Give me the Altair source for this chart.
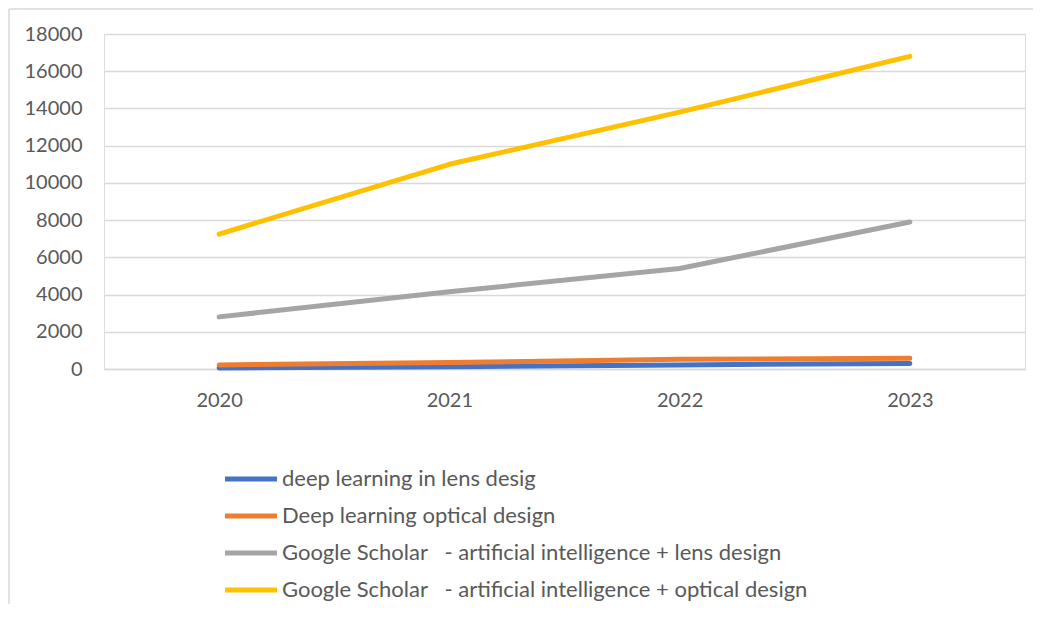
import altair as alt
import pandas as pd

years = ["2020", "2021", "2022", "2023"]
series_names = [
    "deep learning in lens desig",
    "Deep learning optical design",
    "Google Scholar\u00a0\u00a0\u00a0- artificial intelligence + lens design",
    "Google Scholar\u00a0\u00a0\u00a0- artificial intelligence + optical design",
]
blue_vals = [60, 120, 220, 300]
orange_vals = [220, 350, 520, 580]
gray_vals = [2800, 4150, 5400, 7900]
yellow_vals = [7250, 11000, 13800, 16800]
colors = ["#4472C4", "#ED7D31", "#A5A5A5", "#FFC000"]

rows = []
for name, vals in zip(series_names, [blue_vals, orange_vals, gray_vals, yellow_vals]):
    for y, v in zip(years, vals):
        rows.append({"year": y, "value": v, "series": name})
df = pd.DataFrame(rows)

lines = alt.Chart(df).mark_line(strokeWidth=5, strokeCap="round", strokeJoin="round").encode(
    x=alt.X("year:O", scale=alt.Scale(type="point", padding=0.5), title=None,
            axis=alt.Axis(labelAngle=0, labelFontSize=20, labelColor="#595959", labelFont="Lato",
                          ticks=False, domainColor="#D9D9D9", domainWidth=1.5, labelPadding=21)),
    y=alt.Y("value:Q", scale=alt.Scale(domain=[0, 18000], nice=False), title=None,
            axis=alt.Axis(values=list(range(0, 18001, 2000)), format="d", labelFontSize=20,
                          labelColor="#595959", labelFont="Lato", ticks=False, domain=False,
                          gridColor="#D9D9D9", gridWidth=1.5, labelPadding=22)),
    color=alt.Color("series:N", scale=alt.Scale(domain=series_names, range=colors), title=None,
                    legend=alt.Legend(orient="none", legendX=136, legendY=434, direction="vertical",
                                      symbolType="M-5,0H5", symbolSize=108, symbolStrokeWidth=5,
                                      labelOffset=20, labelFontSize=22, labelFont="Lato",
                                      labelColor="#595959", rowPadding=15, padding=0,
                                      labelLimit=800)),
    order=alt.Order("series_idx:Q"),
).transform_calculate(series_idx="indexof(" + str(series_names) + ", datum.series)")

left_edge = alt.Chart(pd.DataFrame({"a": [0]})).mark_rule(stroke="#D9D9D9", strokeWidth=1.5).encode(
    x=alt.value(-95), y=alt.value(-25), y2=alt.value(600)
)
top_edge = alt.Chart(pd.DataFrame({"a": [0]})).mark_rule(stroke="#D9D9D9", strokeWidth=1.5).encode(
    x=alt.value(-95), x2=alt.value(940), y=alt.value(-25)
)

chart = alt.layer(left_edge, top_edge, lines).properties(
    width=921, height=335,
    autosize=alt.AutoSizeParams(type="none"),
    padding={"left": 96, "top": 26, "right": 8, "bottom": 235},
).configure_view(stroke=None).configure(background="white")

chart.save("out.html", embed_options={"renderer": "svg", "actions": False})
